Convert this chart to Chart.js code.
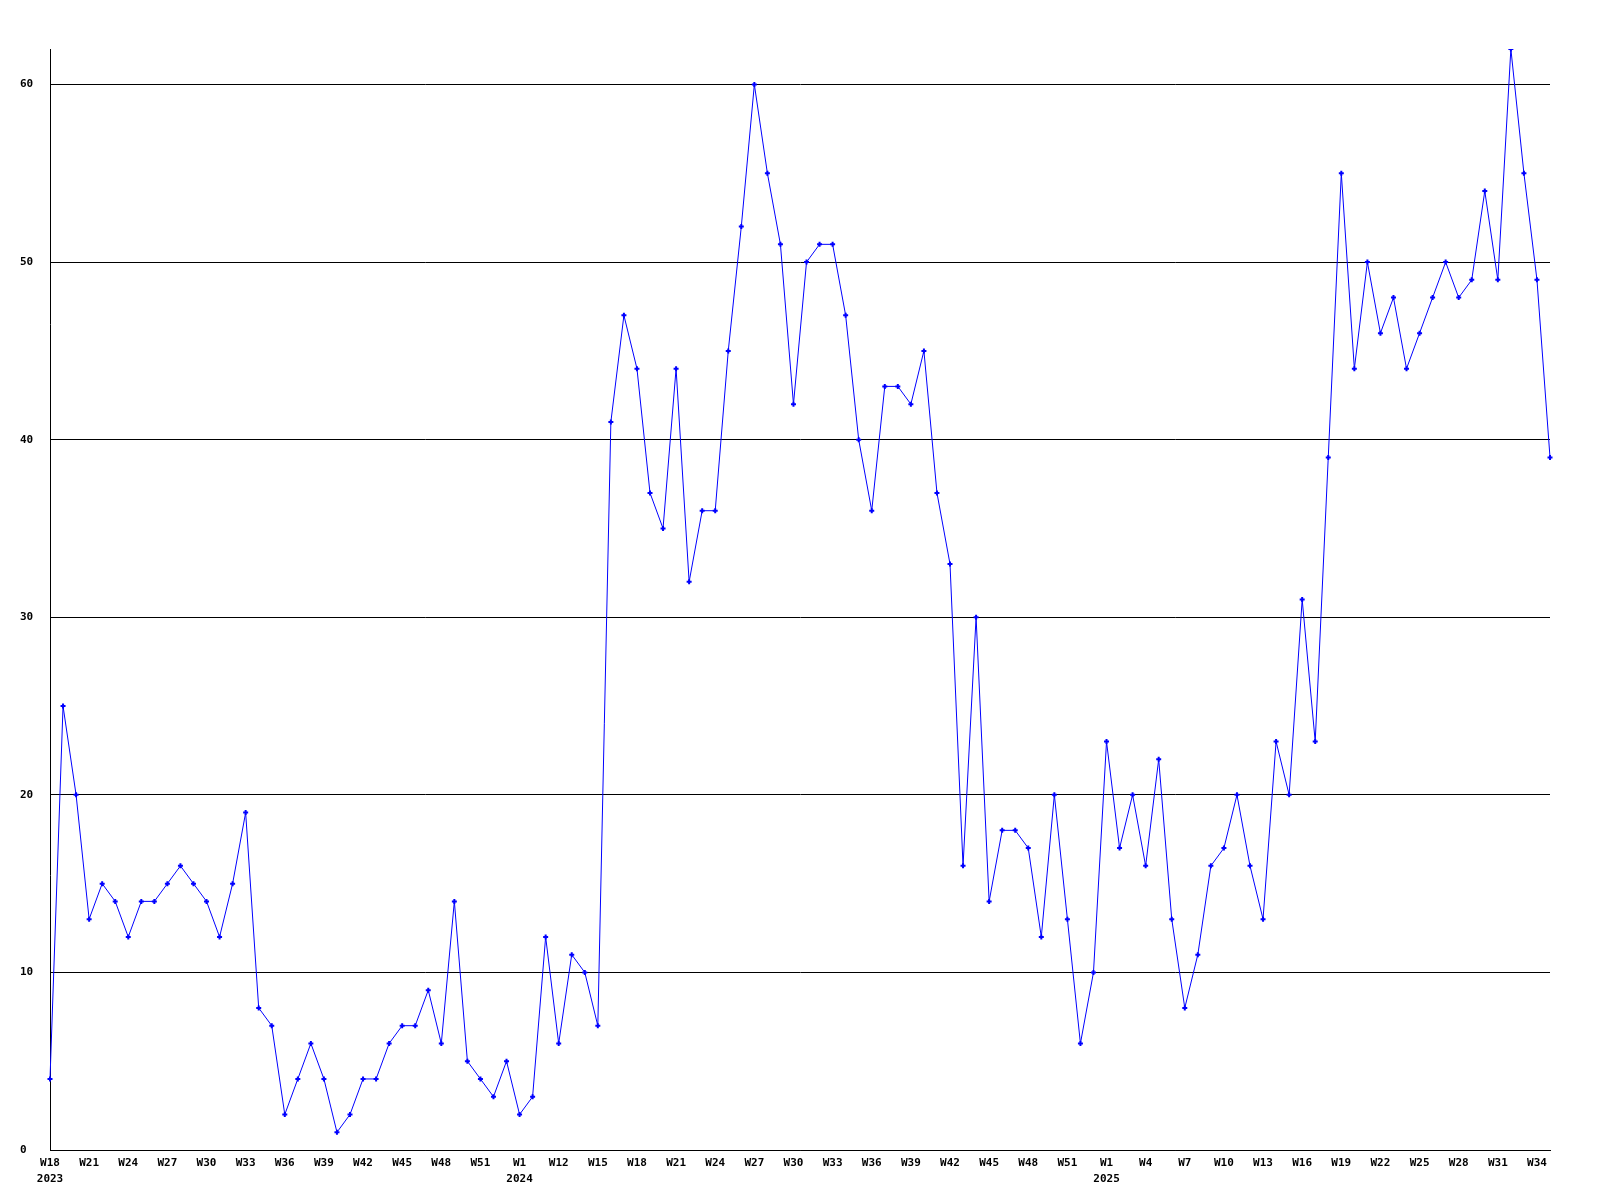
<!DOCTYPE html>
<html>
<head>
<meta charset="utf-8">
<title>Weekly counts</title>
<script src="https://cdn.jsdelivr.net/npm/chart.js@4/dist/chart.umd.min.js"></script>
<style>
    body { margin: 0; background: #fff; }
    #wrap { width: 1600px; height: 1200px; }
</style>
</head>
<body>
<div id="wrap"><canvas id="weeklyChart" width="1600" height="1200"></canvas></div>
<script>
// week labels per year (one entry per data point)
const weeks2023 = ['W18','W19','W20','W21','W22','W23','W24','W25','W26','W27','W28','W29',
    'W30','W31','W32','W33','W34','W35','W36','W37','W38','W39','W40','W41','W42','W43',
    'W44','W45','W46','W47','W48','W49','W50','W51','W52','W53'];
const weeks2024 = ['W1','W10','W11','W12','W13','W14','W15','W16','W17','W18','W19','W20',
    'W21','W22','W23','W24','W25','W26','W27','W28','W29','W30','W31','W32','W33','W34',
    'W35','W36','W37','W38','W39','W40','W41','W42','W43','W44','W45','W46','W47','W48',
    'W49','W50','W51','W52','W53'];
const weeks2025 = ['W1','W2','W3','W4','W5','W6','W7','W8','W9','W10','W11','W12','W13',
    'W14','W15','W16','W17','W18','W19','W20','W21','W22','W23','W24','W25','W26','W27',
    'W28','W29','W30','W31','W32','W33','W34','W35'];
const years = ['2023', '2024', '2025'];

// values
const weeklyCounts = [
    4, 25, 20, 13, 15, 14, 12, 14, 14, 15,
    16, 15, 14, 12, 15, 19, 8, 7, 2, 4,
    6, 4, 1, 2, 4, 4, 6, 7, 7, 9,
    6, 14, 5, 4, 3, 5, 2, 3, 12, 6,
    11, 10, 7, 41, 47, 44, 37, 35, 44, 32,
    36, 36, 45, 52, 60, 55, 51, 42, 50, 51,
    51, 47, 40, 36, 43, 43, 42, 45, 37, 33,
    16, 30, 14, 18, 18, 17, 12, 20, 13, 6,
    10, 23, 17, 20, 16, 22, 13, 8, 11, 16,
    17, 20, 16, 13, 23, 20, 31, 23, 39, 55,
    44, 50, 46, 48, 44, 46, 48, 50, 48, 49,
    54, 49, 62, 55, 49, 39
];

const Y_MIN = 0;
const Y_MAX = 62;
const Y_STEP = 10;
const LABEL_EVERY = 3;

// first week of each year gets the year as a second line
function buildLabels() {
    const labels = [];
    [weeks2023, weeks2024, weeks2025].forEach((weeks, y) => {
        weeks.forEach((w, i) => labels.push(i === 0 ? [w, years[y]] : [w]));
    });
    return labels;
}

const tickFont = { family: '"DejaVu Sans Mono", "Liberation Mono", monospace', size: 11, weight: 'bold', lineHeight: 1.45 };

new Chart(document.getElementById('weeklyChart'), {
    type: 'line',
    data: {
        labels: buildLabels(),
        datasets: [{
            data: weeklyCounts,
            borderColor: '#0000ff',
            backgroundColor: '#0000ff',
            borderWidth: 1,
            tension: 0,
            fill: false,
            pointStyle: 'cross',
            pointRadius: 2.5,
            pointBorderWidth: 2,
            pointBorderColor: '#0000ff'
        }]
    },
    options: {
        responsive: false,
        animation: false,
        layout: { padding: { left: 20, right: 50, top: 49, bottom: 0 } },
        plugins: {
            legend: { display: false },
            tooltip: { enabled: false }
        },
        scales: {
            x: {
                offset: false,
                grid: { display: false, drawTicks: false },
                border: { display: true, color: '#000', width: 1 },
                ticks: {
                    autoSkip: false,
                    maxRotation: 0,
                    padding: 5,
                    color: '#000',
                    font: tickFont,
                    callback: function (val, i) {
                        return i % LABEL_EVERY === 0 ? this.getLabelForValue(val) : null;
                    }
                },
                afterFit: (scale) => { scale.height = 50; }
            },
            y: {
                min: Y_MIN,
                max: Y_MAX,
                grid: { color: '#000', lineWidth: 1, drawTicks: false },
                border: { display: true, color: '#000', width: 1 },
                ticks: {
                    stepSize: Y_STEP,
                    color: '#000',
                    font: tickFont,
                    crossAlign: 'far',
                    padding: 0
                },
                afterBuildTicks: (scale) => {
                    scale.ticks = scale.ticks.filter(t => t.value % Y_STEP === 0);
                },
                afterFit: (scale) => { scale.width = 30; }
            }
        }
    }
});
</script>
</body>
</html>
